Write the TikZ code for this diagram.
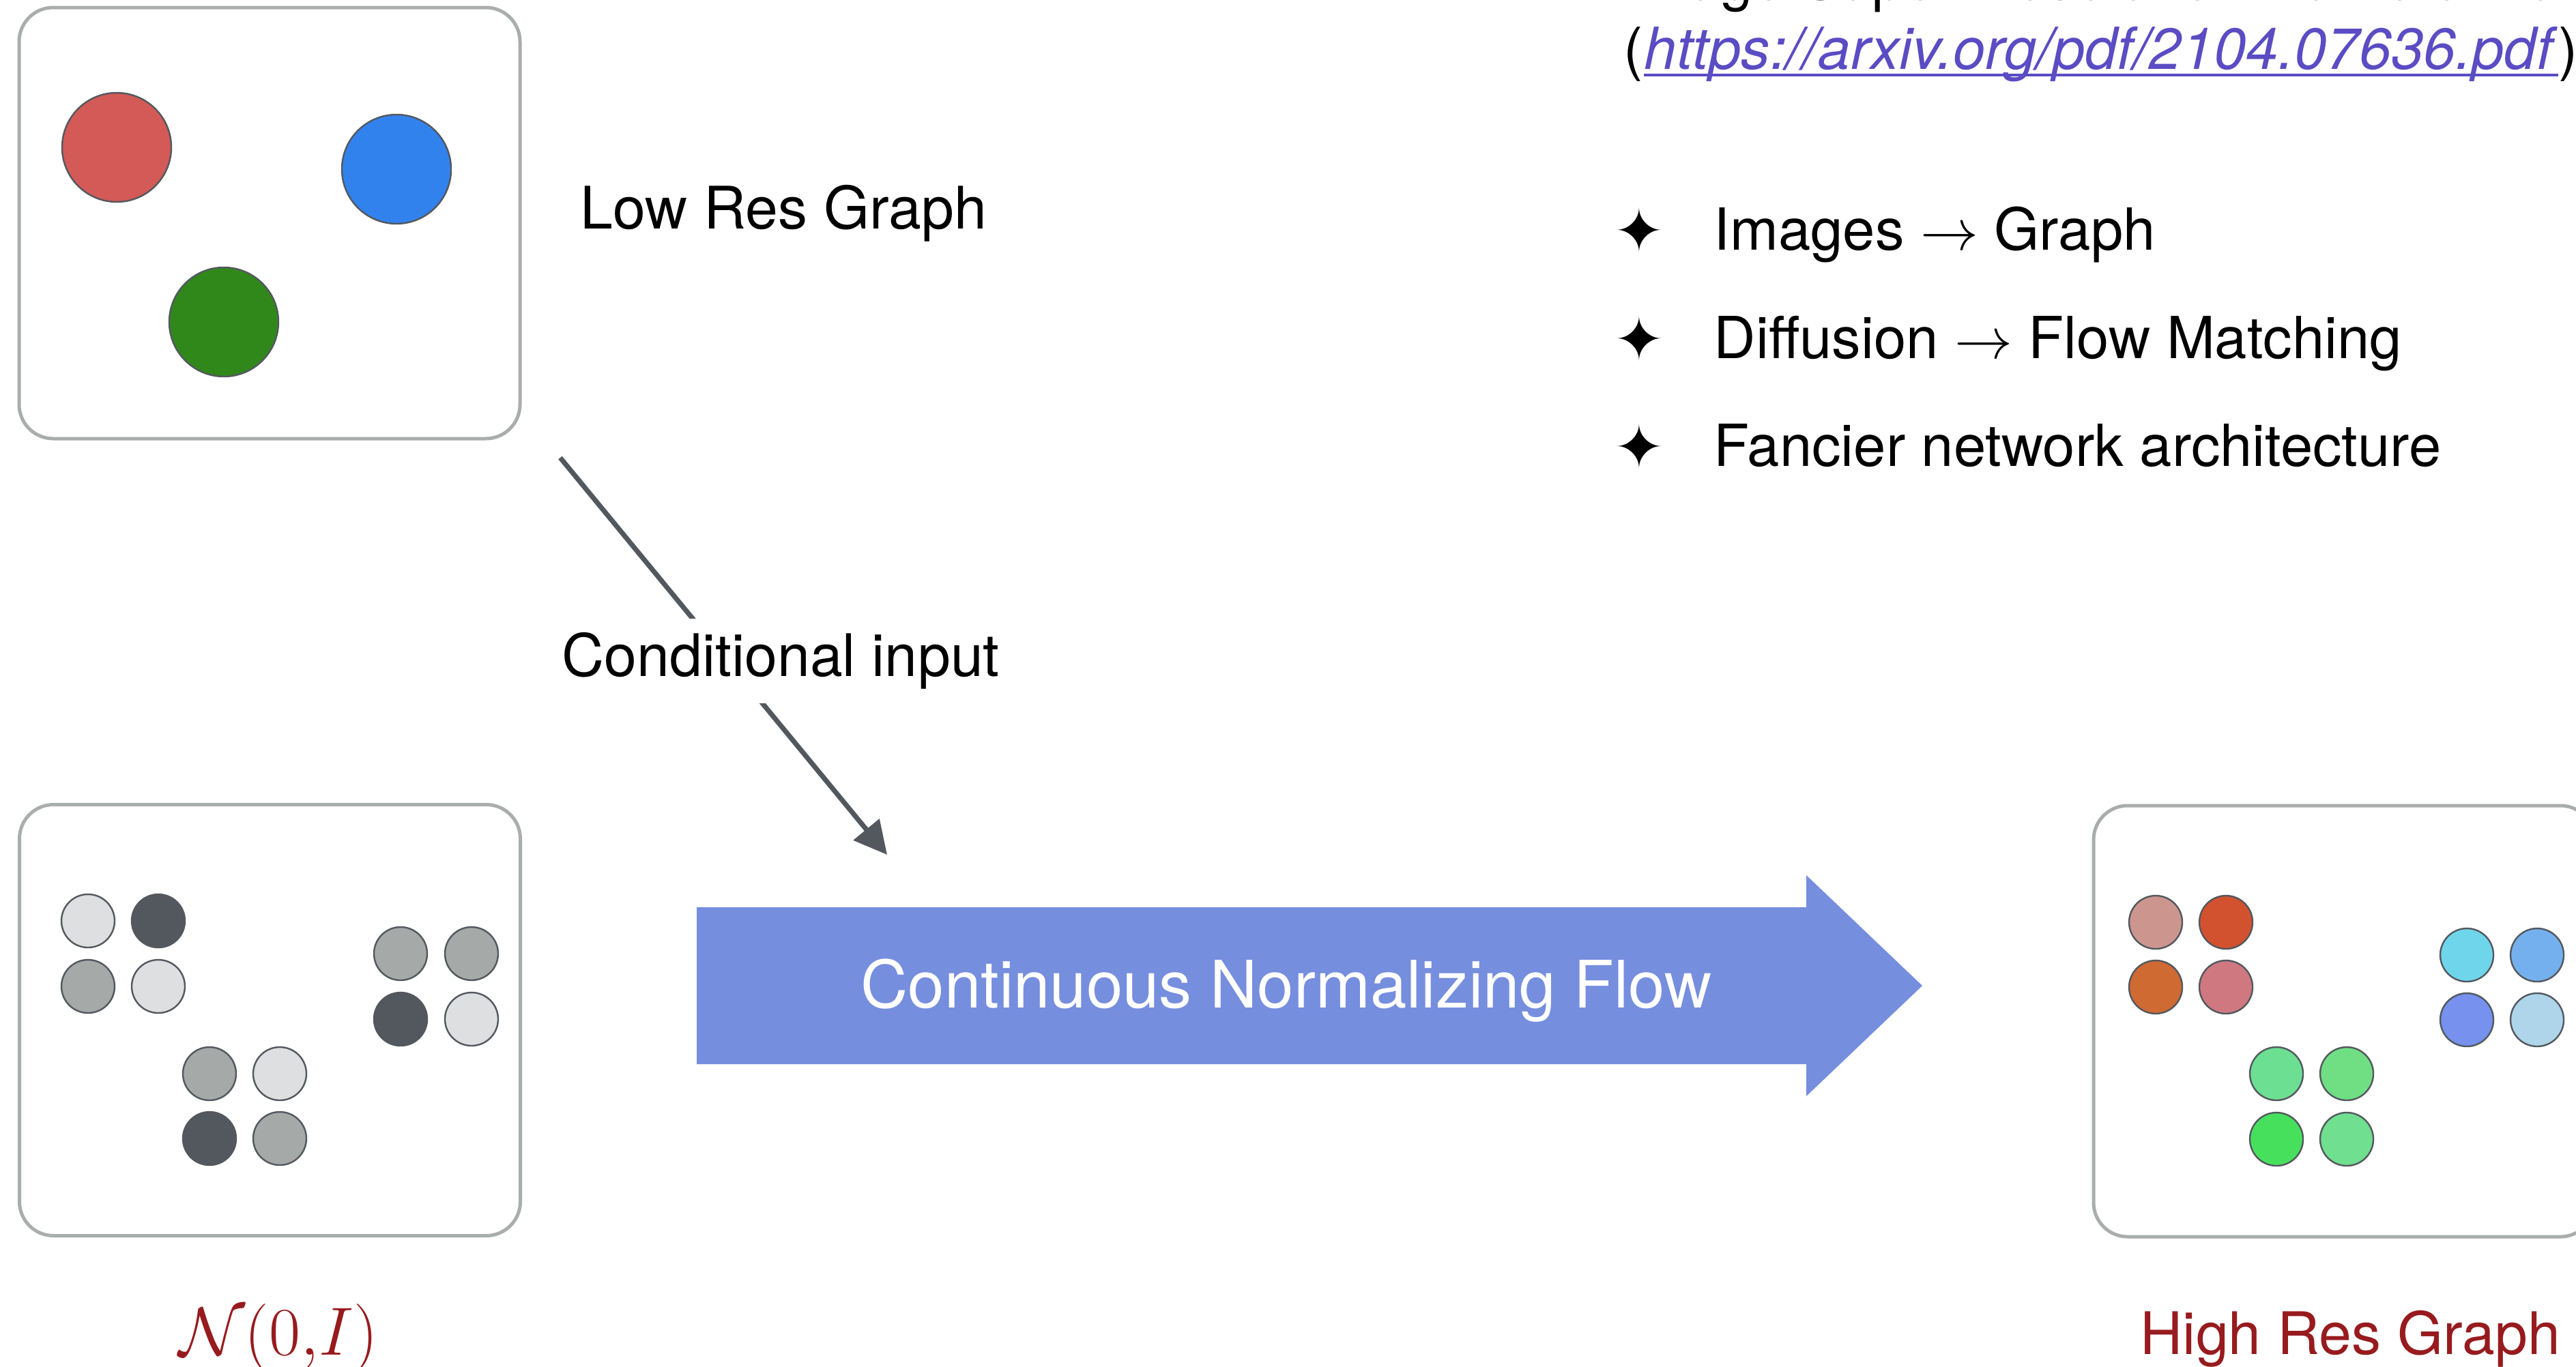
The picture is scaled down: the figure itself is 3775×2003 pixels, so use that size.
\RequirePackage{fix-cm}
\documentclass[tikz,border=0pt]{standalone}
\usepackage{fontspec}
\setmainfont{TeX Gyre Heros}
\newfontfamily\djv{DejaVu Sans}
\usetikzlibrary{arrows.meta}
\definecolor{boxgray}{HTML}{A9ADAB}
\definecolor{lineg}{HTML}{53585F}
\definecolor{darkred}{HTML}{971B1E}
\definecolor{flowblue}{HTML}{768EDE}
\definecolor{urlc}{HTML}{5A4CC3}
\definecolor{cred}{HTML}{D35A56}
\definecolor{cblue}{HTML}{3282EE}
\definecolor{cgreen}{HTML}{30881B}
\definecolor{glight}{HTML}{DEDFE0}
\definecolor{gmid}{HTML}{A5A9A7}
\definecolor{gdark}{HTML}{53585F}
\definecolor{ra}{HTML}{CC968E}
\definecolor{rb}{HTML}{D2512E}
\definecolor{rc}{HTML}{CF6A33}
\definecolor{rd}{HTML}{CF7880}
\definecolor{ba}{HTML}{6FD5EA}
\definecolor{bb}{HTML}{74B0EE}
\definecolor{bc}{HTML}{7691EE}
\definecolor{bd}{HTML}{AED5EA}
\definecolor{ga}{HTML}{6CDF92}
\definecolor{gb}{HTML}{70DF84}
\definecolor{gc}{HTML}{47E05D}
\definecolor{gd}{HTML}{70DF8F}
\begin{document}
\begin{tikzpicture}[x=0.25pt,y=-0.25pt,
  gbox/.style={draw=boxgray, line width=1.25pt, rounded corners=12.5pt, fill=white,
    minimum width=183.5pt, minimum height=158pt, inner sep=0pt},
  bigdot/.style={circle, draw=lineg, line width=0.6pt, minimum size=40pt, inner sep=0pt},
  dot/.style={circle, draw=lineg, line width=0.6pt, minimum size=19.5pt, inner sep=0pt},
  lightlbl/.style={font=\fontsize{21.5pt}{26pt}\selectfont, inner sep=0pt},
  bul/.style={font=\fontsize{21.25pt}{26pt}\selectfont, inner sep=0pt, anchor=base west},
  star/.style={font=\djv\fontsize{22pt}{26pt}\selectfont, inner sep=0pt},
  connector/.style={draw=lineg, line width=1.8pt, -{Triangle[length=12pt,width=12pt]}}
]
\useasboundingbox (0,0) rectangle (3775,2003);
\clip (0,0) rectangle (3775,2003);

% top-right notes
\node[bul] (title) at (2379,-1) {Image Super-Resolution via Iterative Refinement};
\node[bul] (lp) at (2379,101) {(};
\node[bul, text=urlc, font=\fontsize{21.25pt}{26pt}\selectfont\itshape] (url) at (lp.base east) {https://arxiv.org/pdf/2104.07636.pdf\/};
\node[bul] (rp) at (url.base east) {)};
\draw[urlc, line width=1pt] ([yshift=-2.2pt]url.base west) -- ([yshift=-2.2pt]url.base east);
\node[star] (s1) at (2402,337) {✦};
\node[star] (s2) at (2402,496) {✦};
\node[star] (s3) at (2402,654) {✦};
\node[bul] (b1) at (2511,366) {Images $\rightarrow$ Graph};
\node[bul] (b2) at (2511,525) {Diffusion $\rightarrow$ Flow Matching};
\node[bul] (b3) at (2511,683) {Fancier network architecture};

% low res graph box
\node[gbox] (low) at (395,327) {};
\node[bigdot, fill=cred] (lr1) at (171,216) {};
\node[bigdot, fill=cblue] (lr2) at (581,248) {};
\node[bigdot, fill=cgreen] (lr3) at (328,472) {};
\node[lightlbl, anchor=base west] (lowlbl) at (850,335) {Low Res Graph};

% noise box
\node[gbox] (noise) at (395.5,1495.5) {};
\node[dot, fill=glight] (n1) at (129,1350) {};
\node[dot, fill=gdark]  (n2) at (232,1350) {};
\node[dot, fill=gmid]   (n3) at (129,1446) {};
\node[dot, fill=glight] (n4) at (232,1446) {};
\node[dot, fill=gmid]   (n5) at (587,1398) {};
\node[dot, fill=gmid]   (n6) at (691,1398) {};
\node[dot, fill=gdark]  (n7) at (587,1494) {};
\node[dot, fill=glight] (n8) at (691,1494) {};
\node[dot, fill=gmid]   (n9) at (307,1574) {};
\node[dot, fill=glight] (n10) at (410,1574) {};
\node[dot, fill=gdark]  (n11) at (307,1669) {};
\node[dot, fill=gmid]   (n12) at (410,1669) {};
\node[text=darkred, font=\fontsize{25pt}{30pt}\selectfont, inner sep=0pt, anchor=base] (nlbl) at (408,1986) {$\mathcal{N}(0{,}I)$};

% high res box
\node[gbox] (high) at (3435,1497) {};
\node[dot, fill=ra] (h1) at (3159,1352) {};
\node[dot, fill=rb] (h2) at (3262,1352) {};
\node[dot, fill=rc] (h3) at (3159,1447) {};
\node[dot, fill=rd] (h4) at (3262,1447) {};
\node[dot, fill=ba] (h5) at (3615,1400) {};
\node[dot, fill=bb] (h6) at (3718,1400) {};
\node[dot, fill=bc] (h7) at (3615,1495) {};
\node[dot, fill=bd] (h8) at (3718,1495) {};
\node[dot, fill=ga] (h9) at (3336,1574) {};
\node[dot, fill=gb] (h10) at (3439,1574) {};
\node[dot, fill=gc] (h11) at (3336,1670) {};
\node[dot, fill=gd] (h12) at (3439,1670) {};
\node[lightlbl, text=darkred, anchor=base west] (hlbl) at (3136,1985) {High Res Graph};

% big flow arrow
\fill[flowblue] (1021,1330) -- (2647,1330) -- (2647,1283) -- (2817,1445)
  -- (2647,1607) -- (2647,1560) -- (1021,1560) -- cycle;
\node[text=white, font=\fontsize{24pt}{28pt}\selectfont, inner sep=0pt] (cnf) at (1885,1452) {Continuous Normalizing Flow};

% conditional input connector
\coordinate (cstart) at (821,671);
\coordinate (cend) at (1300,1253);
\draw[connector] (cstart) -- (cend);
\node[lightlbl, fill=white, anchor=west, minimum height=31pt] (clbl) at (823,969) {Conditional input};
\end{tikzpicture}
\end{document}
